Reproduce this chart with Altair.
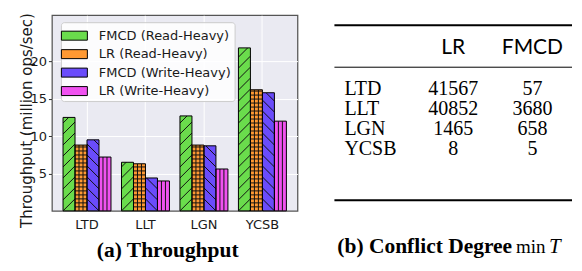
import base64
import altair as alt
import pandas as pd

# ---------------- data ----------------
datasets = ["LTD", "LLT", "LGN", "YCSB"]
series = ["FMCD (Read-Heavy)", "LR (Read-Heavy)", "FMCD (Write-Heavy)", "LR (Write-Heavy)"]
fmcd_read = [12.5, 6.5, 12.7, 21.8]
lr_read = [8.8, 6.3, 8.8, 16.2]
fmcd_write = [9.5, 4.4, 8.7, 15.8]
lr_write = [7.2, 4.0, 5.6, 12.0]
y_ticks = [5, 10, 15, 20]

table_rows = ["LTD", "LLT", "LGN", "YCSB"]
table_cols = ["LR", "FMCD"]
table_lr = [41567, 40852, 1465, 8]
table_fmcd = [57, 3680, 658, 5]

caption_a = "(a) Throughput"
caption_b_bold = "(b) Conflict Degree"
caption_b_op = "min"
caption_b_var = "T"

colors = ["#6ADC4C", "#FF9933", "#6A4CFB", "#F052F0"]
hatches = ["/", "+", "\\", "|"]

# ---------------- layout ----------------
W, H = 246, 196
YMAX = 26.17
PAD_IN, PAD_OUT = 0.18, 0.19
step = W / (len(datasets) - PAD_IN + 2 * PAD_OUT)
sub_w = step * (1 - PAD_IN) / len(series)
px_per_unit = H / YMAX


def hatch_uri(kind, w, h):
    h = max(h, 1.0)
    segs = []
    if kind in ("/", "\\"):
        sp = 11.0
        for k in range(-3, int(h / sp) + 4):
            y0 = h - k * sp
            if kind == "/":
                segs.append((0, y0, w, y0 - w))
            else:
                segs.append((0, y0 - w, w, y0))
    if kind in ("+", "|"):
        sp = 4.0
        x = sp
        while x < w - 0.5:
            segs.append((x, 0, x, h))
            x += sp
    if kind == "+":
        sp = 4.0
        y = h - sp
        while y > 0.5:
            segs.append((0, y, w, y))
            y -= sp
    lines = "".join(
        f'<line x1="{a:.2f}" y1="{b:.2f}" x2="{c:.2f}" y2="{d:.2f}"/>' for a, b, c, d in segs
    )
    svg = (
        f'<svg xmlns="http://www.w3.org/2000/svg" width="{w:.2f}" height="{h:.2f}" '
        f'viewBox="0 0 {w:.2f} {h:.2f}" preserveAspectRatio="none">'
        f'<g stroke="#111111" stroke-width="1" fill="none">{lines}</g></svg>'
    )
    return "data:image/svg+xml;base64," + base64.b64encode(svg.encode()).decode()


values = [fmcd_read, lr_read, fmcd_write, lr_write]
recs = []
for si, s in enumerate(series):
    for di, d in enumerate(datasets):
        v = values[si][di]
        recs.append({
            "dataset": d,
            "series": s,
            "value": v,
            "url": hatch_uri(hatches[si], sub_w, v * px_per_unit),
        })
df = pd.DataFrame(recs)

base = alt.Chart(df).encode(
    x=alt.X(
        "dataset:N",
        sort=datasets,
        scale=alt.Scale(paddingInner=PAD_IN, paddingOuter=PAD_OUT),
        axis=alt.Axis(
            title=None, labelAngle=0, ticks=False, domain=False,
            grid=True, gridColor="white", gridWidth=1,
            labelFont="DejaVu Sans", labelFontSize=13, labelColor="#1a1a1a",
            labelPadding=8,
        ),
    ),
    xOffset=alt.XOffset("series:N", sort=series,
                        scale=alt.Scale(paddingInner=0, paddingOuter=0)),
    y=alt.Y(
        "value:Q",
        scale=alt.Scale(domain=[0, YMAX], nice=False, zero=True),
        axis=alt.Axis(
            values=y_ticks, title="Throughput (million ops/sec)",
            titleFont="DejaVu Sans", titleFontSize=15, titleFontWeight="normal",
            titleColor="#1a1a1a", titleX=-17, titleY=105,
            labelFont="DejaVu Sans", labelFontSize=13, labelColor="#1a1a1a",
            labelPadding=2, tickColor="#333333", tickSize=3.5, tickWidth=1,
            domain=False, grid=True, gridColor="white", gridWidth=1,
        ),
    ),
)

bars = base.mark_bar().encode(
    color=alt.Color(
        "series:N", sort=series,
        scale=alt.Scale(domain=series, range=colors),
        legend=alt.Legend(
            title=None, orient="none", legendX=9, legendY=7, direction="vertical",
            fillColor="rgba(255,255,255,0.85)", strokeColor="#cccccc", cornerRadius=3,
            padding=3, symbolType="M-1.3,-0.45H1.3V0.45H-1.3Z", symbolSize=400,
            symbolStrokeColor="black", symbolStrokeWidth=1, symbolOpacity=1,
            labelFont="DejaVu Sans", labelFontSize=13, labelColor="#1a1a1a",
            labelOffset=14, rowPadding=0.5,
        ),
    )
)
hatch = base.mark_image(aspect=False).encode(url="url:N")
outline = base.mark_bar(fillOpacity=0, stroke="black", strokeWidth=1)

bar_chart = alt.layer(bars, hatch, outline).properties(
    width=W, height=H,
    view=alt.ViewBackground(fill="#EAEAF2", stroke="#555555", strokeWidth=1.25),
    title=alt.TitleParams(
        caption_a, orient="bottom", anchor="middle", font="Liberation Serif",
        fontSize=21.5, fontWeight="bold", color="black", offset=8, dx=-7,
    ),
)

# ---------------- table ----------------
TW = 238
HEADER_ROW = 0
FIRST_ROW = 2
YA, YB = -1.626, 8.03
trecs = []
for c in table_cols:
    trecs.append({"col": c, "text": c, "row": HEADER_ROW, "kind": "header"})
for i, name in enumerate(table_rows):
    r = FIRST_ROW + i
    trecs.append({"col": "name", "text": name, "row": r, "kind": "name"})
    trecs.append({"col": "LR", "text": str(table_lr[i]), "row": r, "kind": "num"})
    trecs.append({"col": "FMCD", "text": str(table_fmcd[i]), "row": r, "kind": "num"})
tdf = pd.DataFrame(trecs)

col_band = TW / 3
xs = alt.Scale(domain=["name"] + table_cols, paddingInner=0, paddingOuter=0)
ys = alt.Scale(domain=[YA, YB], reverse=True, nice=False, zero=False)

tbase = alt.Chart(tdf)
t_header = tbase.transform_filter(alt.datum.kind == "header").mark_text(
    font="Lato", fontSize=21, color="black", baseline="middle"
).encode(x=alt.X("col:N", scale=xs, axis=None),
         y=alt.Y("row:Q", scale=ys, axis=None), text="text:N")
t_names = tbase.transform_filter(alt.datum.kind == "name").mark_text(
    font="Liberation Serif", fontSize=20, color="black", baseline="middle",
    align="left", dx=10 - col_band / 2
).encode(x=alt.X("col:N", scale=xs, axis=None),
         y=alt.Y("row:Q", scale=ys, axis=None), text="text:N")
t_nums = tbase.transform_filter(alt.datum.kind == "num").mark_text(
    font="Liberation Serif", fontSize=20, color="black", baseline="middle"
).encode(x=alt.X("col:N", scale=xs, axis=None),
         y=alt.Y("row:Q", scale=ys, axis=None), text="text:N")

rule_df = pd.DataFrame({
    "row": [HEADER_ROW - 1.13, HEADER_ROW + 0.94, FIRST_ROW + len(table_rows) - 1 + 2.5],
    "w": [2, 1, 2],
})
t_rules = alt.Chart(rule_df).mark_rule(color="black").encode(
    y=alt.Y("row:Q", scale=ys, axis=None),
    strokeWidth=alt.StrokeWidth("w:Q", scale=None, legend=None),
)

cap_df = pd.DataFrame({"bold": [caption_b_bold], "op": [caption_b_op], "var": [caption_b_var]})
cap_bold = alt.Chart(cap_df).mark_text(
    font="Liberation Serif", fontSize=21.5, fontWeight="bold", align="right",
    baseline="alphabetic", color="black"
).encode(text="bold:N", x=alt.value(178), y=alt.value(238))
cap_op = alt.Chart(cap_df).mark_text(
    font="Liberation Serif", fontSize=19, align="left", baseline="alphabetic", color="black"
).encode(text="op:N", x=alt.value(182), y=alt.value(238))
cap_var = alt.Chart(cap_df).mark_text(
    font="Liberation Serif", fontSize=21, fontStyle="italic", align="left",
    baseline="alphabetic", color="black"
).encode(text="var:N", x=alt.value(215), y=alt.value(238))

table_chart = alt.layer(t_rules, t_header, t_names, t_nums, cap_bold, cap_op, cap_var).properties(
    width=TW, height=H,
    view=alt.ViewBackground(fill="white", stroke="transparent"),
)

chart = alt.hconcat(bar_chart, table_chart, spacing=34).properties(
    padding={"left": 11, "top": 3, "right": 0, "bottom": 0},
    background="white",
).resolve_scale(x="independent", y="independent")

chart.save("out.html", embed_options={"renderer": "svg", "actions": False})
